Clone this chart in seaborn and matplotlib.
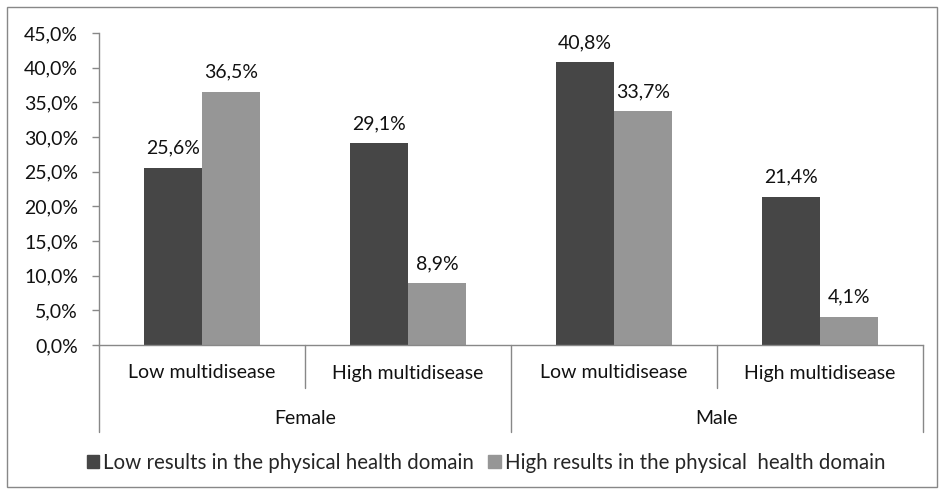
import pandas as pd
import matplotlib.pyplot as plt
import matplotlib.patches as mpatches
import matplotlib.transforms as mtransforms
import seaborn as sns

# chart data
genders = ['Female', 'Female', 'Male', 'Male']
multidisease = ['Low multidisease', 'High multidisease', 'Low multidisease', 'High multidisease']
low_results = [25.6, 29.1, 40.8, 21.4]
high_results = [36.5, 8.9, 33.7, 4.1]
series_names = ['Low results in the physical health domain',
                'High results in the physical  health domain']
yticks = [0, 5, 10, 15, 20, 25, 30, 35, 40, 45]

sns.set_style('white')
plt.rcParams['font.family'] = ['Lato', 'DejaVu Sans']
FS = 14

cats = [g + ' ' + m for g, m in zip(genders, multidisease)]
rows = []
for c, lo, hi in zip(cats, low_results, high_results):
    rows.append({'cat': c, 'series': series_names[0], 'value': lo})
    rows.append({'cat': c, 'series': series_names[1], 'value': hi})
df = pd.DataFrame(rows)

colors = ['#464646', '#969696']

fig = plt.figure(figsize=(9.45, 4.94), dpi=100)
ax = fig.add_axes([99 / 945, 1 - 345 / 494, (923 - 99) / 945, (345 - 33) / 494])

sns.barplot(data=df, x='cat', y='value', hue='series', order=cats,
            hue_order=series_names, palette=colors, width=0.56,
            saturation=1, linewidth=0, ax=ax, legend=False)

# value labels
for container in ax.containers:
    ax.bar_label(container, labels=[f'{b.get_height():.1f}%'.replace('.', ',') for b in container],
                 padding=8, fontsize=FS, color='#111111')

ax.set_ylim(0, 45)
ax.set_xlim(-0.5, 3.5)
ax.set_yticks(yticks)
ax.set_yticklabels([f'{v:.1f}%'.replace('.', ',') for v in yticks], fontsize=FS, color='#111111')
ax.set_xticks([])
ax.set_xlabel('')
ax.set_ylabel('')
ax.tick_params(axis='y', length=5, width=1, color='#888888', left=True, pad=10)
for s in ['top', 'right']:
    ax.spines[s].set_visible(False)
for s in ['left', 'bottom']:
    ax.spines[s].set_color('#888888')
    ax.spines[s].set_linewidth(1)

# two-level category axis
trans = mtransforms.blended_transform_factory(ax.transData, fig.transFigure)
for i, m in enumerate(multidisease):
    ax.text(i, 1 - 373 / 494, m, transform=trans, ha='center', va='center',
            fontsize=FS, color='#111111')
for k, g in enumerate(['Female', 'Male']):
    ax.text(2 * k + 0.5, 1 - 418 / 494, g, transform=trans, ha='center', va='center',
            fontsize=FS, color='#111111')
for x, bottom in zip([-0.5, 0.5, 1.5, 2.5, 3.5], [432, 388, 432, 388, 432]):
    ax.plot([x, x], [1 - 345 / 494, 1 - bottom / 494], transform=trans,
            color='#888888', lw=1, clip_on=False)

handles = [mpatches.Patch(color=c, label=n) for c, n in zip(colors, series_names)]
fig.legend(handles=handles, loc='center', bbox_to_anchor=(486 / 945, 1 - 463 / 494),
           ncol=2, frameon=False, fontsize=14.8, handlelength=0.6, handleheight=0.6,
           handletextpad=0.2, columnspacing=0.7)

# outer chart border
fig.patches.append(mpatches.Rectangle((7 / 945, 7 / 494), 930 / 945, 480 / 494,
                                      transform=fig.transFigure, fill=False,
                                      edgecolor='#888888', lw=1))

fig.savefig('out.png', dpi=100)
